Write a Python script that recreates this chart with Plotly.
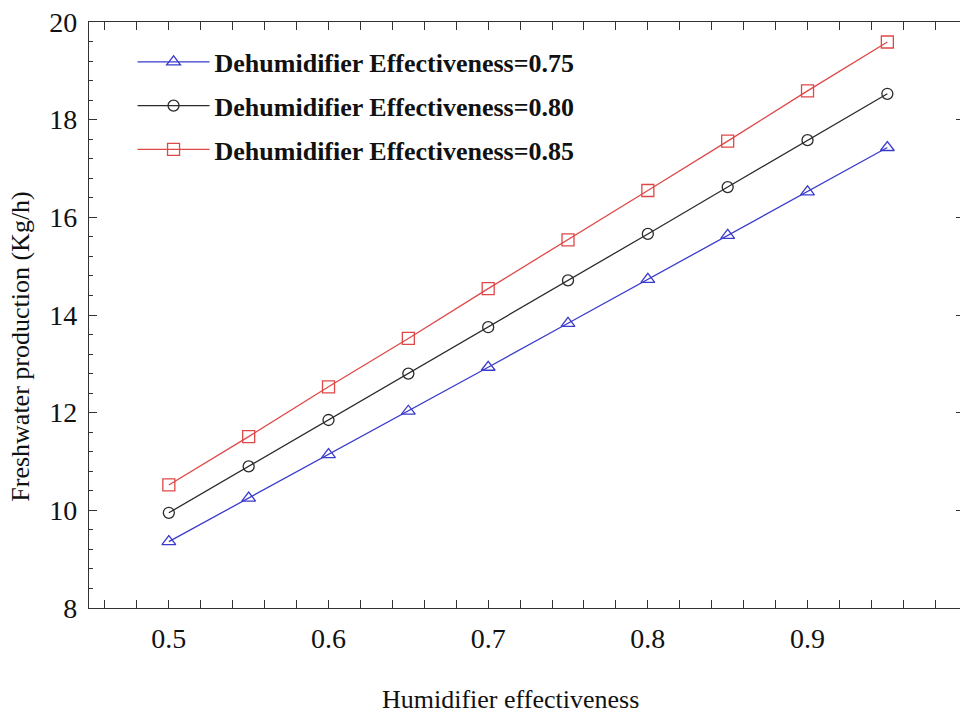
import plotly.graph_objects as go

# Humidifier effectiveness (x) and freshwater production (kg/h) per dehumidifier effectiveness
humidifier_eff = [0.50, 0.55, 0.60, 0.65, 0.70, 0.75, 0.80, 0.85, 0.90, 0.95]
prod_075 = [9.36, 10.25, 11.14, 12.03, 12.93, 13.83, 14.73, 15.63, 16.52, 17.43]
prod_080 = [9.95, 10.90, 11.85, 12.80, 13.75, 14.71, 15.66, 16.62, 17.58, 18.53]
prod_085 = [10.52, 11.51, 12.53, 13.52, 14.54, 15.54, 16.55, 17.56, 18.59, 19.59]
series_names = ["Dehumidifier Effectiveness=0.75",
                "Dehumidifier Effectiveness=0.80",
                "Dehumidifier Effectiveness=0.85"]

x_ticks = [0.5, 0.6, 0.7, 0.8, 0.9]
y_ticks = [8, 10, 12, 14, 16, 18, 20]

SERIF = "Liberation Serif"

styles = [
    dict(color="#3a3acc", symbol="triangle-up-open", size=12),
    dict(color="#2b2b2b", symbol="circle-open", size=11),
    dict(color="#e04848", symbol="square-open", size=12),
]

fig = go.Figure()
for i, (name, ys, st) in enumerate(zip(series_names, [prod_075, prod_080, prod_085], styles)):
    fig.add_trace(go.Scatter(
        x=humidifier_eff, y=ys, name=name, mode="lines+markers",
        legendgroup=f"g{i}",
        line=dict(color=st["color"], width=1.3),
        marker=dict(symbol=st["symbol"], size=st["size"], color=st["color"],
                    line=dict(color=st["color"], width=1.3)),
    ))

# invisible overlay axis that only carries the right-hand inward ticks
fig.add_trace(go.Scatter(x=[0.5], y=[8], yaxis="y2", mode="markers",
                         marker=dict(opacity=0), showlegend=False, hoverinfo="skip"))

axis_common = dict(
    showgrid=False, zeroline=False, showline=True, linecolor="#333333", linewidth=1.3,
    ticks="inside", tickcolor="#333333", tickwidth=1.2,
    tickfont=dict(family=SERIF, size=28, color="#111111"),
)

fig.update_layout(
    width=960, height=717,
    paper_bgcolor="white", plot_bgcolor="white",
    margin=dict(l=89, r=0, t=22, b=109),
    xaxis=dict(**axis_common, range=[0.45, 0.9955], tickvals=x_ticks,
               ticktext=[f"{v:g}" for v in x_ticks], ticklen=8, mirror="allticks",
               minor=dict(dtick=0.02, tick0=0.5, ticks="inside", ticklen=4,
                          tickcolor="#333333", tickwidth=1.1),
               ticklabelstandoff=5),
    yaxis=dict(**axis_common, range=[8, 20], tickvals=y_ticks, ticklen=8, mirror=False,
               minor=dict(dtick=0.4, tick0=8, ticks="inside", ticklen=4,
                          tickcolor="#333333", tickwidth=1.1),
               ticklabelstandoff=5),
    yaxis2=dict(overlaying="y", side="right", range=[8, 20], tickvals=y_ticks,
                showticklabels=False, ticks="inside", ticklen=4, tickcolor="#333333",
                showgrid=False, zeroline=False, showline=False),
    showlegend=True,
    legend=dict(x=0.05, y=0.972, xanchor="left", yanchor="top",
                bgcolor="rgba(0,0,0,0)", itemwidth=72,
                traceorder="grouped", tracegroupgap=7,
                font=dict(family=SERIF, size=26, color="#111111", weight="bold")),
    annotations=[
        dict(text="Humidifier effectiveness", xref="paper", yref="paper",
             x=0.4845, y=-0.185, xanchor="center", yanchor="bottom", showarrow=False,
             font=dict(family=SERIF, size=26, color="#111111")),
        dict(text="Freshwater production (Kg/h)", xref="paper", yref="paper",
             x=-0.078, y=0.446, xanchor="center", yanchor="middle", showarrow=False,
             textangle=-90, font=dict(family=SERIF, size=26, color="#111111")),
    ],
)

fig.write_html("out.html")
